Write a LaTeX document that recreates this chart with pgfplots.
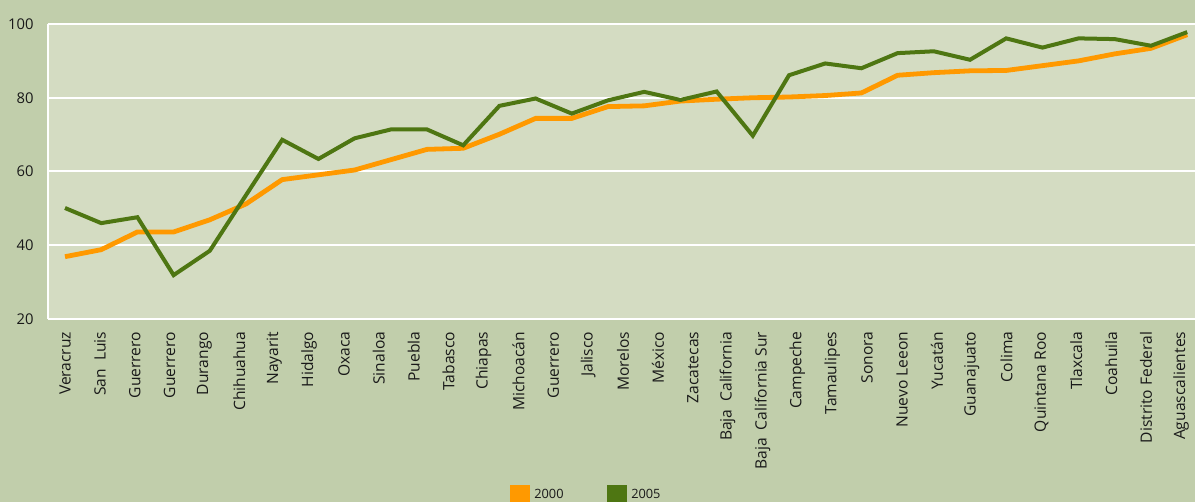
\documentclass[border=0pt]{standalone}
\usepackage{fontspec}
\setmainfont{Open Sans}
\usepackage{pgfplots}
\pgfplotsset{compat=1.18}

\definecolor{outerbg}{RGB}{193,206,171}
\definecolor{plotbg}{RGB}{212,220,194}
\definecolor{c2000}{RGB}{255,153,0}
\definecolor{c2005}{RGB}{78,118,18}
\definecolor{txt}{RGB}{25,25,25}

\begin{document}
\begin{tikzpicture}
% one pixel of the reference = 0.5pt
\fill[outerbg] (-24pt,-91.5pt) rectangle (573.5pt,159.5pt);
\begin{axis}[
  at={(0pt,0pt)}, anchor=south west,
  scale only axis, width=573.5pt, height=147.5pt,
  xmin=-0.47, xmax=31.215,
  ymin=20, ymax=100,
  ytick={20,40,60,80,100},
  xtick={0,0.9634,...,30.9},
  xticklabels={Veracruz, San~~Luis, Guerrero, Guerrero, Durango, Chihuahua,
    Nayarit, Hidalgo, Oxaca, Sinaloa, Puebla, Tabasco, Chiapas, Michoacán,
    Guerrero, Jalisco, Morelos, México, Zacatecas, Baja~~California,
    Baja~~California Sur, Campeche, Tamaulipes, Sonora, Nuevo Leeon, Yucatán,
    Guanajuato, Colima, Quintana Roo, Tlaxcala, Coahuila, Distrito Federal,
    Aguascalientes},
  axis x line*=bottom, axis y line*=left,
  axis line style={white, line width=1pt, -},
  major tick length=0pt,
  ymajorgrids, grid style={white, line width=1pt},
  axis background/.style={fill=plotbg},
  tick label style={text=txt},
  xticklabel style={rotate=90, anchor=east, inner sep=0pt,
    font=\fontsize{7.8}{9}\selectfont},
  xticklabel shift=6.2pt,
  yticklabel style={inner sep=0pt, font=\fontsize{7.4}{9}\selectfont},
  yticklabel shift=7pt,
  /pgf/number format/assume math mode=true,
  legend columns=2,
  legend cell align=left,
  legend style={at={(axis description cs:0.4021,-0.5627)}, anchor=north west,
    draw=none, fill=none, inner sep=0pt, text=txt,
    nodes={inner sep=0pt},
    font=\fontsize{6.4}{7}\selectfont,
    /tikz/every odd column/.append style={column sep=2pt},
    /tikz/every even column/.append style={column sep=21.5pt}},
  legend image code/.code={\fill[#1, draw=none] (0pt,-5.15pt) rectangle (10.35pt,5.15pt);},
]
\addplot[c2000, line width=2.4pt] coordinates {
  (0,36.9) (1,38.8) (2,43.6) (3,43.6) (4,46.9) (5,51.2) (6,57.8) (7,59.1)
  (8,60.4) (9,63.2) (10,66.0) (11,66.3) (12,70.1) (13,74.4) (14,74.4)
  (15,77.6) (16,77.8) (17,79.1) (18,79.6) (19,80.0) (20,80.2) (21,80.6)
  (22,81.3) (23,86.1) (24,86.8) (25,87.3) (26,87.4) (27,88.7) (28,90.0)
  (29,91.9) (30,93.4) (31,97.1)
};
\addlegendentry{2000}
\addplot[c2005, line width=2pt] coordinates {
  (0,50.1) (1,46.0) (2,47.6) (3,31.9) (4,38.5) (5,53.6) (6,68.6) (7,63.4)
  (8,69.0) (9,71.4) (10,71.4) (11,67.1) (12,77.8) (13,79.8) (14,75.7)
  (15,79.3) (16,81.6) (17,79.4) (18,81.7) (19,69.7) (20,86.1) (21,89.3)
  (22,88.0) (23,92.1) (24,92.6) (25,90.3) (26,96.1) (27,93.6) (28,96.1)
  (29,95.9) (30,94.1) (31,97.8)
};
\addlegendentry{2005}
\end{axis}
\pgfresetboundingbox
\path[use as bounding box] (-24pt,-91.5pt) rectangle (573.5pt,159.5pt);
\end{tikzpicture}
\end{document}
